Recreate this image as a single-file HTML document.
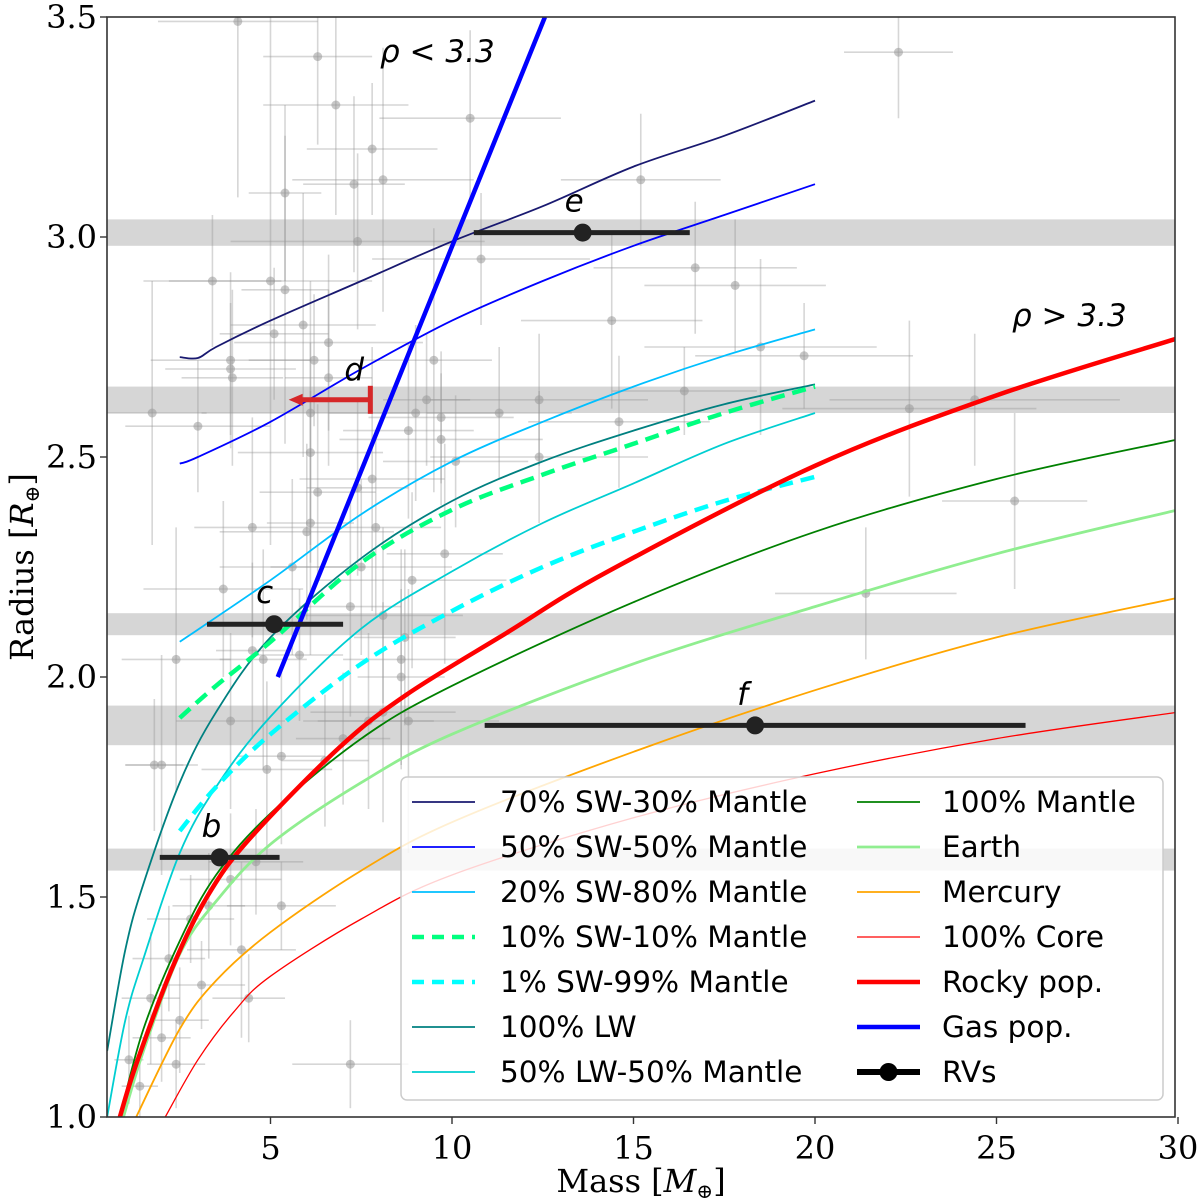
<!DOCTYPE html>
<html><head><meta charset="utf-8"><title>Mass-Radius diagram</title>
<style>
html,body{margin:0;padding:0;background:#fff;}
svg{display:block;}
.tick{font-family:"DejaVu Serif","Liberation Serif",serif;font-size:32px;fill:#000;}
.axl{font-family:"DejaVu Serif","Liberation Serif",serif;font-size:32px;fill:#000;}
.leg{font-family:"DejaVu Sans","Liberation Sans",sans-serif;font-size:29.5px;fill:#000;}
.ann{font-family:"DejaVu Sans","Liberation Sans",sans-serif;font-size:31px;fill:#000;font-style:italic;}
</style></head>
<body>
<svg id="chart" width="1200" height="1202" viewBox="0 0 1200 1202" xmlns="http://www.w3.org/2000/svg">
<defs><clipPath id="plotclip"><rect x="107" y="17" width="1068" height="1100"/></clipPath></defs>
<g id="plot" clip-path="url(#plotclip)"></g>
<g id="axes"></g>
<g id="legend"></g>
</svg>
<script>
// ---- axis data ----
const xTicks = [5, 10, 15, 20, 25, 30];
const yTicks = [1.0, 1.5, 2.0, 2.5, 3.0, 3.5];
const xDomain = [0.5, 30];
const yDomain = [1.0, 3.5];

// ---- model curves: masses and radii ----
const sw70M = [2.5, 3, 3.5, 5, 7.5, 10, 12.5, 15, 17.5, 20];
const sw70R = [2.727, 2.725, 2.75, 2.81, 2.9, 2.99, 3.07, 3.16, 3.23, 3.31];
const sw50M = [2.5, 3, 5, 7.5, 10, 12.5, 15, 17.5, 20];
const sw50R = [2.485, 2.5, 2.58, 2.7, 2.81, 2.9, 2.98, 3.05, 3.12];
const sw20M = [2.5, 5, 7.5, 10, 12.5, 15, 17.5, 20];
const sw20R = [2.08, 2.22, 2.37, 2.49, 2.58, 2.66, 2.73, 2.79];
const sw10M = [2.5, 3.5, 5, 7.5, 10, 12.5, 15, 17.5, 20];
const sw10R = [1.907, 1.98, 2.08, 2.26, 2.38, 2.46, 2.53, 2.6, 2.66];
const sw1M = [2.5, 3.5, 5, 7.5, 10, 12.5, 15, 17.5, 20];
const sw1R = [1.65, 1.75, 1.87, 2.03, 2.15, 2.25, 2.33, 2.4, 2.455];
const lw100M = [0.5, 1, 1.5, 2.5, 3.5, 5, 7.5, 10, 12.5, 15, 17.5, 20];
const lw100R = [1.15, 1.38, 1.53, 1.76, 1.92, 2.09, 2.27, 2.4, 2.49, 2.56, 2.62, 2.665];
const lw50M = [0.5, 1, 1.5, 2.5, 3.5, 5, 7.5, 10, 12.5, 15, 17.5, 20];
const lw50R = [1.0, 1.22, 1.36, 1.6, 1.75, 1.91, 2.11, 2.24, 2.35, 2.44, 2.53, 2.6];
const mantleM = [0.85, 1.5, 2.5, 3.5, 5, 7.5, 10, 15, 20, 25, 30];
const mantleR = [1.0, 1.2, 1.4, 1.55, 1.69, 1.86, 1.98, 2.17, 2.33, 2.45, 2.54];
const earthM = [0.95, 1.5, 2.5, 3.5, 5, 7.5, 10, 15, 20, 25, 30];
const earthR = [1.0, 1.15, 1.37, 1.49, 1.62, 1.76, 1.87, 2.03, 2.16, 2.28, 2.38];
const mercM = [1.3, 2.5, 3.5, 5, 7.5, 10, 15, 20, 25, 30];
const mercR = [1.0, 1.2, 1.31, 1.42, 1.56, 1.67, 1.83, 1.97, 2.09, 2.18];
const coreM = [2.1, 3, 4, 5, 7.5, 10, 15, 20, 25, 30];
const coreR = [1.0, 1.13, 1.24, 1.32, 1.45, 1.55, 1.68, 1.78, 1.86, 1.92];
const rockyM = [0.85, 1.3, 2.3, 3.25, 4.4, 6.9, 8.75, 11.5, 14.3, 20, 25, 30];
const rockyR = [1.0, 1.12, 1.34, 1.5, 1.63, 1.84, 1.96, 2.1, 2.24, 2.48, 2.64, 2.77];
const gasM = [5.2, 12.56];
const gasR = [2.0, 3.5];

// ---- horizontal bands (radius ranges of planets) ----
const bandLo = [2.98, 2.60, 2.095, 1.845, 1.56];
const bandHi = [3.04, 2.66, 2.145, 1.935, 1.61];

// ---- RV planets ----
const rvNames = ['b', 'c', 'e', 'f'];
const rvMass = [3.6, 5.1, 13.6, 18.35];
const rvRad = [1.59, 2.12, 3.01, 1.89];
const rvLo = [1.95, 3.25, 10.6, 10.9];
const rvHi = [5.25, 7.0, 16.55, 25.8];
const dMass = [7.75];
const dRad = [2.63];
const dArrowTo = [5.5];

// ---- background population: mass, radius, mass err, radius err ----
const popM = [4.1,6.3,6.8,7.8,8.1,5.4,7.3,3.4,5.0,5.4,7.4,1.74,3.0,3.9,3.9,3.95,5.1,5.9,6.6,6.2,6.6,6.1,6.1,6.3,6.1,6.0,4.5,5.6,3.7,7.8,7.4,7.9,7.5,7.2,2.4,8.1,8.6,8.6,5.8,4.5,4.8,3.9,7.7,8.1,8.8,7.0,2.0,5.3,4.9,6.5,8.7,8.9,9.5,9.3,9.0,8.8,9.7,9.8,1.8,1.1,1.7,2.2,2.8,3.3,3.9,4.2,3.1,2.5,2.0,4.4,4.6,2.4,1.4,7.2,5.3,12.4,14.6,18.5,16.7,22.6,24.4,25.5,21.4,19.7,22.3,17.8,15.2,14.4,16.4,12.4,11.3,9.7,10.8,10.5,10.1];
const popR = [3.49,3.41,3.30,3.20,3.13,3.10,3.12,2.90,2.90,2.88,2.99,2.60,2.57,2.72,2.70,2.68,2.78,2.80,2.76,2.72,2.68,2.60,2.51,2.42,2.35,2.33,2.34,2.25,2.20,2.45,2.43,2.34,2.25,2.16,2.04,2.14,2.04,2.00,2.05,2.06,2.04,1.90,1.90,1.92,1.90,1.86,1.80,1.82,1.79,1.81,2.09,2.22,2.72,2.63,2.60,2.56,2.59,2.28,1.80,1.13,1.27,1.36,1.45,1.48,1.54,1.38,1.30,1.22,1.18,1.27,1.58,1.12,1.07,1.12,1.48,2.63,2.58,2.75,2.93,2.61,2.63,2.40,2.19,2.73,3.42,2.89,3.13,2.81,2.65,2.50,2.60,2.54,2.95,3.27,2.49];
const popDM = [2.2,1.5,2.0,1.8,2.5,1.0,1.4,1.9,2.8,1.2,3.5,1.5,2.0,2.2,1.8,1.4,1.5,2.0,2.6,1.8,1.2,3.0,2.0,1.6,1.2,2.4,1.6,2.0,2.2,2.0,1.4,1.8,2.5,1.4,1.5,2.2,1.6,1.2,1.2,1.0,1.2,1.5,1.8,2.0,2.5,1.3,1.0,1.2,1.8,1.2,1.4,2.6,1.6,1.2,2.4,1.8,2.0,1.6,0.8,0.4,0.8,1.0,1.2,1.0,1.4,1.5,1.2,0.8,0.8,1.0,1.3,0.8,0.5,1.6,1.5,3.0,2.5,3.2,2.8,3.5,4.0,2.0,2.5,3.0,1.5,2.5,2.2,2.5,2.0,3.0,2.0,2.8,3.0,2.5,2.0];
const popDR = [0.4,0.2,0.25,0.15,0.3,0.2,0.2,0.15,0.6,0.35,0.2,0.3,0.15,0.2,0.15,0.2,0.15,0.3,0.2,0.15,0.2,0.3,0.25,0.2,0.3,0.2,0.25,0.2,0.2,0.3,0.2,0.2,0.2,0.25,0.3,0.2,0.25,0.2,0.15,0.2,0.25,0.2,0.2,0.25,0.3,0.15,0.25,0.2,0.2,0.15,0.2,0.2,0.3,0.15,0.2,0.2,0.15,0.25,0.15,0.1,0.15,0.12,0.1,0.12,0.15,0.2,0.1,0.12,0.1,0.1,0.12,0.1,0.08,0.1,0.1,0.15,0.15,0.2,0.15,0.2,0.15,0.2,0.15,0.12,0.15,0.15,0.15,0.2,0.1,0.15,0.15,0.15,0.15,0.2,0.15];

// ---- scales ----
const PX0 = 107, PX1 = 1175, PY0 = 17, PY1 = 1117;
function sx(m){ return 89 + 36.3 * m; }
function sy(r){ return PY1 - (r - yDomain[0]) * 440; }

const NS = 'http://www.w3.org/2000/svg';
function mk(tag, attrs, parent){
  const e = document.createElementNS(NS, tag);
  for (const k in attrs) e.setAttribute(k, attrs[k]);
  parent.appendChild(e);
  return e;
}
const plot = document.getElementById('plot');
const axes = document.getElementById('axes');
const legend = document.getElementById('legend');

// bands
for (let i = 0; i < bandLo.length; i++){
  const b = mk('rect', {x: PX0, y: sy(bandHi[i]), width: PX1-PX0, height: sy(bandLo[i]) - sy(bandHi[i]), fill: '#d6d6d6'}, plot);
  
  
}

// population
for (let i = 0; i < popM.length; i++){
  const g = mk('g', {stroke: '#999', 'stroke-opacity': 0.4, 'stroke-width': 1.6, fill: '#999', 'fill-opacity': 0.55}, plot);
  
  
  const x = sx(popM[i]), y = sy(popR[i]);
  mk('line', {x1: sx(popM[i]-popDM[i]), x2: sx(popM[i]+popDM[i]), y1: y, y2: y}, g);
  mk('line', {x1: x, x2: x, y1: sy(popR[i]-popDR[i]), y2: sy(popR[i]+popDR[i])}, g);
  mk('circle', {cx: x, cy: y, r: 4.5, stroke: 'none'}, g);
}

// curves
const curves = [
  {n:'70% SW-30% Mantle', m:sw70M, r:sw70R, c:'#191970', w:1.8, d:null, col:0},
  {n:'50% SW-50% Mantle', m:sw50M, r:sw50R, c:'#0000ff', w:1.8, d:null, col:0},
  {n:'20% SW-80% Mantle', m:sw20M, r:sw20R, c:'#00bfff', w:1.8, d:null, col:0},
  {n:'10% SW-10% Mantle', m:sw10M, r:sw10R, c:'#00ff7f', w:4.5, d:'14,8', col:0},
  {n:'1% SW-99% Mantle', m:sw1M, r:sw1R, c:'#00ffff', w:4.5, d:'14,8', col:0},
  {n:'100% LW', m:lw100M, r:lw100R, c:'#008080', w:1.8, d:null, col:0},
  {n:'50% LW-50% Mantle', m:lw50M, r:lw50R, c:'#00ced1', w:1.8, d:null, col:0},
  {n:'100% Mantle', m:mantleM, r:mantleR, c:'#008000', w:1.8, d:null, col:1},
  {n:'Earth', m:earthM, r:earthR, c:'#90ee90', w:2.8, d:null, col:1},
  {n:'Mercury', m:mercM, r:mercR, c:'#ffa500', w:1.8, d:null, col:1},
  {n:'100% Core', m:coreM, r:coreR, c:'#ff0000', w:1.3, d:null, col:1},
  {n:'Rocky pop.', m:rockyM, r:rockyR, c:'#ff0000', w:4.5, d:null, col:1},
  {n:'Gas pop.', m:gasM, r:gasR, c:'#0000ff', w:4.5, d:null, col:1}
];
function smoothPath(ms, rs){
  const p = ms.map((m,i)=>[sx(m), sy(rs[i])]);
  if (p.length < 3) return 'M' + p.map(q=>q.join(',')).join(' L');
  let d = 'M' + p[0][0] + ',' + p[0][1];
  for (let i = 0; i < p.length-1; i++){
    const p0 = p[i-1] || p[i], p1 = p[i], p2 = p[i+1], p3 = p[i+2] || p[i+1];
    const c1 = [p1[0] + (p2[0]-p0[0])/6, p1[1] + (p2[1]-p0[1])/6];
    const c2 = [p2[0] - (p3[0]-p1[0])/6, p2[1] - (p3[1]-p1[1])/6];
    d += ' C' + c1.join(',') + ' ' + c2.join(',') + ' ' + p2.join(',');
  }
  return d;
}
const order = [0,1,2,5,6,3,4,7,8,9,10,11,12];
order.forEach(i=>{
  const c = curves[i];
  const a = {d: smoothPath(c.m, c.r), fill: 'none', stroke: c.c, 'stroke-width': c.w, 'stroke-linecap': 'butt'};
  if (c.d) a['stroke-dasharray'] = c.d;
  const p = mk('path', a, plot);
  
  
});

// RV planets
for (let i = 0; i < rvMass.length; i++){
  const g = mk('g', {}, plot);
  
  
  const y = sy(rvRad[i]);
  mk('line', {x1: sx(rvLo[i]), x2: sx(rvHi[i]), y1: y, y2: y, stroke: '#222', 'stroke-width': 5}, g);
  mk('circle', {cx: sx(rvMass[i]), cy: y, r: 9, fill: '#222'}, g);
  const t = mk('text', {x: sx(rvMass[i]) - 18, y: y - 21, class: 'ann'}, g);
  t.textContent = rvNames[i];
}
// planet d upper limit
{
  const g = mk('g', {}, plot);
  
  
  const y = sy(dRad[0]), x = sx(dMass[0]), xa = sx(dArrowTo[0]);
  mk('line', {x1: x, x2: xa + 12, y1: y, y2: y, stroke: '#d62728', 'stroke-width': 5}, g);
  mk('polygon', {points: `${xa},${y} ${xa+14},${y-6} ${xa+14},${y+6}`, fill: '#d62728'}, g);
  mk('line', {x1: x, x2: x, y1: y - 14, y2: y + 14, stroke: '#d62728', 'stroke-width': 5}, g);
  const t = mk('text', {x: x - 26, y: y - 20, class: 'ann'}, g);
  t.textContent = 'd';
}

// density annotations
{
  const t1 = mk('text', {x: 380, y: 62, class: 'ann', 'font-style': 'normal'}, plot);
  
  
  t1.innerHTML = '<tspan font-style="italic">ρ</tspan> &lt; 3.3';
  const t2 = mk('text', {x: 1012, y: 326, class: 'ann', 'font-style': 'normal'}, plot);
  
  
  t2.innerHTML = '<tspan font-style="italic">ρ</tspan> &gt; 3.3';
}

// axes frame
{
  const f = mk('rect', {x: PX0, y: PY0, width: PX1-PX0, height: PY1-PY0, fill: 'none', stroke: '#333', 'stroke-width': 1.6}, axes);
  
  
}
xTicks.forEach(v=>{
  const x = sx(v);
  mk('line', {x1: x, x2: x, y1: PY1, y2: PY1 + 7, stroke: '#333', 'stroke-width': 1.4}, axes);
  const t = mk('text', {x: x, y: PY1 + 42, class: 'tick', 'text-anchor': 'middle'}, axes);
  
  
  t.textContent = String(v);
});
yTicks.forEach(v=>{
  const y = sy(v);
  mk('line', {x1: PX0 - 7, x2: PX0, y1: y, y2: y, stroke: '#333', 'stroke-width': 1.4}, axes);
  const t = mk('text', {x: PX0 - 10, y: y + 11, class: 'tick', 'text-anchor': 'end'}, axes);
  
  
  t.textContent = v.toFixed(1);
});
{
  const xl = mk('text', {x: 641, y: 1192, class: 'axl', 'text-anchor': 'middle'}, axes);
  
  
  xl.innerHTML = 'Mass [<tspan font-style="italic">M</tspan><tspan font-size="20" dy="6">⊕</tspan><tspan dy="-6">]</tspan>';
  const yl = mk('text', {x: 0, y: 0, class: 'axl', 'text-anchor': 'middle', transform: 'translate(33,567) rotate(-90)'}, axes);
  
  
  yl.innerHTML = 'Radius [<tspan font-style="italic">R</tspan><tspan font-size="20" dy="6">⊕</tspan><tspan dy="-6">]</tspan>';
}

// legend
{
  const box = mk('rect', {x: 401, y: 777, width: 762, height: 323, rx: 6, fill: '#fff', 'fill-opacity': 0.82, stroke: '#ccc', 'stroke-width': 1.5}, legend);
  
  
  const colX = [[412, 475, 500], [857, 920, 942]];
  let rows = [0, 0];
  const items = curves.map(c=>({n: c.n, c: c.c, w: c.w, d: c.d, col: c.col}));
  items.push({n: 'RVs', c: '#000', w: 6, d: null, col: 1, rv: true});
  items.forEach(it=>{
    const r = rows[it.col]++;
    const y = 802 + r * 45;
    const [h0, h1, tx] = colX[it.col];
    const g = mk('g', {}, legend);
    
    
    const a = {x1: h0, x2: h1, y1: y, y2: y, stroke: it.c, 'stroke-width': it.w};
    if (it.d) a['stroke-dasharray'] = '12,8';
    mk('line', a, g);
    if (it.rv) mk('circle', {cx: (h0+h1)/2, cy: y, r: 9, fill: '#000'}, g);
    const t = mk('text', {x: tx, y: y + 10, class: 'leg'}, g);
    t.textContent = it.n;
  });
}
</script>
</body></html>
